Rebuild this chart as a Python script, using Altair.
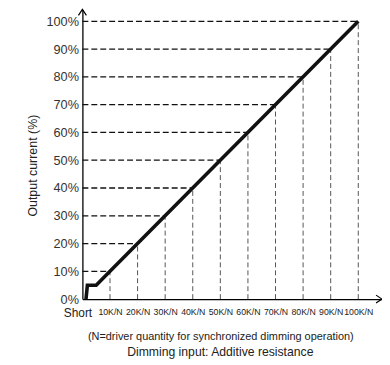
import altair as alt
import pandas as pd

# data
levels = [10, 20, 30, 40, 50, 60, 70, 80, 90, 100]          # % output / K/N steps
curve_x = [1.3, 1.8, 5, 10, 100]                              # K/N
curve_y = [0, 5, 5, 10, 100]                                  # %
x_ticks = [0, 10, 20, 30, 40, 50, 60, 70, 80, 90, 100]
y_ticks = [0, 10, 20, 30, 40, 50, 60, 70, 80, 90, 100]
X_MAX = 108.6
Y_MAX = 104.3

curve = pd.DataFrame({"x": curve_x, "y": curve_y, "o": range(len(curve_x))})
hdf = pd.DataFrame({"x0": [0] * len(levels), "x1": levels, "y": levels})
vdf = pd.DataFrame({"x": levels, "y0": [0] * len(levels), "y1": levels})
arrow_x = pd.DataFrame({"x": [X_MAX], "y": [0]})
arrow_y = pd.DataFrame({"x": [0], "y": [Y_MAX]})

xs = alt.Scale(domain=[0, X_MAX], nice=False, zero=False)
ys = alt.Scale(domain=[0, Y_MAX], nice=False, zero=False)

xaxis = alt.Axis(
    values=x_ticks,
    labelExpr="datum.value == 0 ? 'Short' : datum.value + 'K/N'",
    labelFont="Liberation Sans",
    labelFontSize={"condition": {"test": "datum.value == 0", "value": 12}, "value": 8.8},
    labelOffset={"condition": {"test": "datum.value == 0", "value": -5}, "value": 0},
    labelColor="#222",
    labelPadding=9,
    ticks=False,
    grid=False,
    domainColor="#000",
    domainWidth=1.3,
    labelOverlap=False,
    labelFlush=False,
    labelBound=False,
    title="(N=driver quantity for synchronized dimming operation)",
    titleFont="Liberation Sans",
    titleFontSize=11,
    titleFontWeight="normal",
    titleColor="#222",
    titleX=139,
    titleY=38,
    titleBaseline="middle",
)
yaxis = alt.Axis(
    values=y_ticks,
    labelExpr="datum.value + '%'",
    labelFont="Liberation Sans",
    labelFontSize=12.8,
    labelColor="#333",
    labelPadding=4,
    labelOverlap=False,
    labelFlush=False,
    labelBound=False,
    ticks=False,
    grid=False,
    domainColor="#000",
    domainWidth=1.3,
    title="Output current (%)",
    titleFont="Liberation Sans",
    titleFontSize=12.5,
    titleFontWeight="normal",
    titleColor="#222",
    titleX=-50,
    titleY=157,
    titleAngle=-90,
    titleBaseline="middle",
    titleAlign="center",
)

vlines = alt.Chart(vdf).mark_rule(color="#555", strokeWidth=1, strokeDash=[5, 3]).encode(
    x=alt.X("x:Q", scale=xs, axis=xaxis),
    y=alt.Y("y0:Q", scale=ys, axis=yaxis),
    y2="y1:Q",
)
hlines = alt.Chart(hdf).mark_rule(color="#111", strokeWidth=1.3, strokeDash=[6, 3]).encode(
    x=alt.X("x0:Q", scale=xs, axis=xaxis),
    x2="x1:Q",
    y=alt.Y("y:Q", scale=ys, axis=yaxis),
)
line = alt.Chart(curve).mark_line(color="#111", strokeWidth=3.6, strokeJoin="miter").encode(
    x=alt.X("x:Q", scale=xs, axis=xaxis),
    y=alt.Y("y:Q", scale=ys, axis=yaxis),
    order="o:Q",
)
ax_arrow = alt.Chart(arrow_x).mark_point(
    shape="M-1.5,-1L0,0L-1.5,1", filled=False, stroke="#000", strokeWidth=1.2, size=64, opacity=1
).encode(x=alt.X("x:Q", scale=xs, axis=xaxis), y=alt.Y("y:Q", scale=ys, axis=yaxis))
ay_arrow = alt.Chart(arrow_y).mark_point(
    shape="M-1,1.5L0,0L1,1.5", filled=False, stroke="#000", strokeWidth=1.2, size=64, opacity=1
).encode(x=alt.X("x:Q", scale=xs, axis=xaxis), y=alt.Y("y:Q", scale=ys, axis=yaxis))

chart = alt.layer(vlines, hlines, line, ax_arrow, ay_arrow).properties(
    width=302,
    height=292,
    padding={"left": 75, "top": 0, "right": 0, "bottom": 64},
    autosize=alt.AutoSizeParams(type="none"),
    title=alt.TitleParams(
        text="Dimming input: Additive resistance",
        orient="bottom",
        font="Liberation Sans",
        fontSize=12.3,
        fontWeight="normal",
        color="#222",
        anchor="middle",
        dx=-12,
        offset=4,
    ),
).configure_view(stroke=None)

chart.save("out.html", embed_options={"renderer": "svg", "actions": False})
